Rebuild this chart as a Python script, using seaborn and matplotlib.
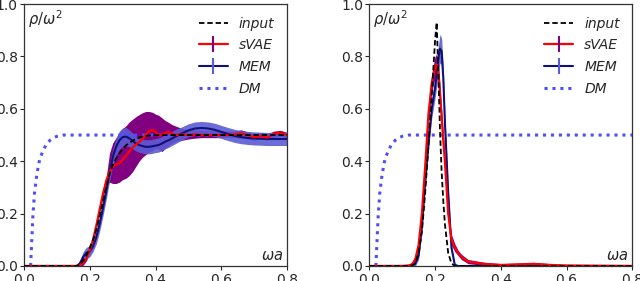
import matplotlib
import matplotlib.pyplot as plt
import numpy as np
import seaborn as sns
from matplotlib.lines import Line2D

matplotlib.use("Agg")

# ---- left panel: broad threshold spectrum ----
x_left = [0, 0.1, 0.15, 0.16, 0.17, 0.18, 0.19, 0.2, 0.21, 0.22, 0.23, 0.24, 0.25,
          0.26, 0.27, 0.28, 0.29, 0.3, 0.31, 0.32, 0.33, 0.34, 0.35, 0.36, 0.37, 0.38,
          0.39, 0.4, 0.41, 0.42, 0.43, 0.44, 0.45, 0.46, 0.48, 0.5, 0.52, 0.54, 0.56,
          0.58, 0.6, 0.62, 0.64, 0.66, 0.68, 0.7, 0.72, 0.74, 0.76, 0.78, 0.8]
input_left = [0, 0, 0, 0, 0.005, 0.02, 0.04, 0.07, 0.1, 0.14, 0.19, 0.245, 0.3,
              0.35, 0.385, 0.41, 0.43, 0.447, 0.46, 0.47, 0.478, 0.485, 0.49, 0.494,
              0.496, 0.498, 0.5, 0.5, 0.5, 0.5, 0.5, 0.5, 0.5, 0.5, 0.5, 0.5, 0.5, 0.5,
              0.5, 0.5, 0.5, 0.5, 0.5, 0.5, 0.5, 0.5, 0.5, 0.5, 0.5, 0.5, 0.5]
svae_left = [0, 0, 0, 0, 0.003, 0.012, 0.03, 0.06, 0.1, 0.155, 0.215, 0.275, 0.325,
             0.36, 0.38, 0.388, 0.393, 0.405, 0.42, 0.437, 0.452, 0.463, 0.473, 0.485,
             0.5, 0.515, 0.52, 0.512, 0.5, 0.5, 0.508, 0.512, 0.505, 0.5, 0.502, 0.5,
             0.502, 0.5, 0.5, 0.5, 0.5, 0.5, 0.502, 0.506, 0.5, 0.492, 0.496, 0.49,
             0.505, 0.508, 0.5]
svae_lo_left = [0, 0, 0, 0, 0, 0.003, 0.02, 0.05, 0.088, 0.14, 0.2, 0.26, 0.31,
                0.32, 0.315, 0.315, 0.32, 0.33, 0.335, 0.345, 0.36, 0.38, 0.4, 0.415,
                0.425, 0.435, 0.44, 0.45, 0.445, 0.437, 0.45, 0.46, 0.468, 0.475, 0.48,
                0.485, 0.488, 0.49, 0.49, 0.49, 0.49, 0.492, 0.49, 0.49, 0.485, 0.48,
                0.485, 0.48, 0.49, 0.495, 0.49]
svae_hi_left = [0, 0, 0, 0, 0.008, 0.022, 0.04, 0.07, 0.112, 0.17, 0.23, 0.29,
                0.34, 0.43, 0.47, 0.49, 0.51, 0.525, 0.535, 0.55, 0.56, 0.57, 0.578,
                0.585, 0.59, 0.59, 0.587, 0.58, 0.575, 0.565, 0.555, 0.548, 0.54, 0.535,
                0.525, 0.52, 0.52, 0.518, 0.518, 0.518, 0.518, 0.515, 0.515, 0.52, 0.512,
                0.505, 0.51, 0.505, 0.515, 0.518, 0.51]
mem_left = [0, 0, 0, 0, 0.01, 0.035, 0.05, 0.055, 0.075, 0.11, 0.16, 0.22, 0.285,
            0.355, 0.415, 0.455, 0.48, 0.492, 0.494, 0.488, 0.478, 0.468, 0.462, 0.458,
            0.455, 0.455, 0.457, 0.46, 0.462, 0.468, 0.475, 0.48, 0.487, 0.494, 0.506,
            0.518, 0.525, 0.527, 0.525, 0.52, 0.512, 0.504, 0.497, 0.492, 0.489, 0.487,
            0.486, 0.485, 0.485, 0.485, 0.485]
mem_err_left = [0, 0, 0, 0, 0.01, 0.02, 0.022, 0.02, 0.02, 0.025, 0.028, 0.03,
                0.032, 0.032, 0.032, 0.032, 0.035, 0.035, 0.035, 0.032, 0.03, 0.028,
                0.028, 0.027, 0.027, 0.027, 0.027, 0.027, 0.027, 0.027, 0.027, 0.027,
                0.027, 0.027, 0.025, 0.025, 0.025, 0.025, 0.025, 0.025, 0.025, 0.025,
                0.025, 0.025, 0.025, 0.025, 0.025, 0.025, 0.025, 0.025, 0.025]

# ---- right panel: narrow peak spectrum ----
x_right = [0, 0.1, 0.12, 0.13, 0.14, 0.15, 0.16, 0.17, 0.18, 0.19, 0.2, 0.205,
           0.21, 0.215, 0.22, 0.225, 0.23, 0.24, 0.25, 0.26, 0.27, 0.28, 0.3, 0.35,
           0.4, 0.45, 0.5, 0.55, 0.6, 0.7, 0.8]
input_right = [0, 0, 0, 0.002, 0.01, 0.05, 0.13, 0.28, 0.46, 0.65, 0.86, 0.93, 0.74,
               0.52, 0.36, 0.25, 0.16, 0.05, 0.01, 0, 0, 0, 0, 0, 0, 0, 0, 0, 0, 0, 0]
svae_right = [0, 0, 0.002, 0.005, 0.025, 0.08, 0.2, 0.38, 0.58, 0.7, 0.76, 0.77,
              0.74, 0.66, 0.57, 0.48, 0.4, 0.2, 0.1, 0.07, 0.05, 0.035, 0.017, 0.008,
              0.004, 0.006, 0.008, 0.004, 0.002, 0.001, 0]
svae_err_right = [0, 0, 0.005, 0.01, 0.015, 0.02, 0.025, 0.03, 0.03, 0.035, 0.04,
                  0.04, 0.04, 0.035, 0.03, 0.03, 0.025, 0.02, 0.02, 0.015, 0.01, 0.01,
                  0.008, 0.006, 0.005, 0.005, 0.006, 0.005, 0.003, 0.002, 0.001]
mem_right = [0, 0, 0, 0.002, 0.01, 0.04, 0.15, 0.32, 0.47, 0.6, 0.68, 0.73, 0.79,
             0.83, 0.82, 0.72, 0.55, 0.28, 0.07, 0.005, 0, 0, 0, 0, 0, 0, 0, 0, 0, 0, 0]
mem_err_right = [0, 0, 0, 0.003, 0.01, 0.015, 0.02, 0.025, 0.03, 0.035, 0.04,
                 0.045, 0.05, 0.055, 0.05, 0.04, 0.03, 0.02, 0.01, 0.003, 0, 0, 0, 0,
                 0, 0, 0, 0, 0, 0, 0]

# ---- default model (same in both panels) ----
x_dm = [0.02, 0.023, 0.027, 0.032, 0.039, 0.048, 0.058, 0.068, 0.079, 0.09, 0.1,
        0.12, 0.8]
dm = [0, 0.08, 0.19, 0.28, 0.35, 0.41, 0.44, 0.465, 0.48, 0.49, 0.495, 0.5, 0.5]

PURPLE = "purple"
SLATE = "#5c5cd4"
NAVY = "#10107a"
DM_COLOR = "#4d4dff"

sns.set_theme(style="ticks")
plt.rcParams["font.family"] = ["DejaVu Sans"]
plt.rcParams["font.size"] = 10
plt.rcParams["axes.edgecolor"] = "#333333"
plt.rcParams["mathtext.fontset"] = "dejavusans"

fig = plt.figure(figsize=(6.4, 2.81), dpi=100)
ax_l = fig.add_axes([0.0375, 0.0534, 0.411, 0.932])
ax_r = fig.add_axes([0.577, 0.0534, 0.411, 0.932])

panels = [
    (ax_l, x_left, input_left, svae_left, np.array(svae_lo_left), np.array(svae_hi_left),
     mem_left, mem_err_left),
    (ax_r, x_right, input_right, svae_right,
     np.array(svae_right) - np.array(svae_err_right),
     np.array(svae_right) + np.array(svae_err_right),
     mem_right, mem_err_right),
]

for ax, xs, inp, sv, sv_lo, sv_hi, mem, mem_err in panels:
    mem_a = np.array(mem)
    err_a = np.array(mem_err)
    ax.fill_between(xs, sv_lo, sv_hi, color=PURPLE, lw=0, zorder=1)
    ax.fill_between(xs, mem_a - err_a, mem_a + err_a, color=SLATE, alpha=0.9,
                    lw=0, zorder=2)
    sns.lineplot(x=x_dm, y=dm, ax=ax, color=DM_COLOR, linestyle=(0, (1, 1.6)),
                 linewidth=2.2, estimator=None, sort=False, zorder=2.5)
    sns.lineplot(x=xs, y=mem, ax=ax, color=NAVY, linewidth=1.5, estimator=None,
                 sort=False, zorder=3)
    sns.lineplot(x=xs, y=sv, ax=ax, color="red", linewidth=1.6, estimator=None,
                 sort=False, zorder=4)
    sns.lineplot(x=xs, y=inp, ax=ax, color="black", linestyle=(0, (3, 1.6)),
                 linewidth=1.3, estimator=None, sort=False, zorder=5)

    ax.set_xlim(0, 0.8)
    ax.set_ylim(0, 1.0)
    ax.set_xticks([0.0, 0.2, 0.4, 0.6, 0.8])
    ax.set_yticks([0.0, 0.2, 0.4, 0.6, 0.8, 1.0])
    ax.tick_params(labelsize=10, length=3, width=0.8)
    ax.tick_params(axis="x", pad=2)
    ax.tick_params(axis="y", pad=1.5)
    for s in ax.spines.values():
        s.set_linewidth(0.9)
    ax.set_xlabel("")
    ax.set_ylabel("")
    ax.text(0.015, 0.985, r"$\rho/\omega^2$", transform=ax.transAxes,
            ha="left", va="top", fontsize=10.5)
    ax.text(0.985, 0.012, r"$\omega a$", transform=ax.transAxes,
            ha="right", va="bottom", fontsize=10.5)

    handles = [
        Line2D([], [], color="black", linestyle=(0, (3, 1.6)), linewidth=1.3),
        (Line2D([], [], color="red", linewidth=1.6),
         Line2D([], [], color=PURPLE, marker="|", markersize=12,
                markeredgewidth=1.5, linestyle="none")),
        (Line2D([], [], color=NAVY, linewidth=1.5),
         Line2D([], [], color=SLATE, marker="|", markersize=12,
                markeredgewidth=1.5, linestyle="none")),
        Line2D([], [], color=DM_COLOR, linestyle=(0, (1, 1.6)), linewidth=2.2),
    ]
    ax.legend(handles, ["input", "sVAE", "MEM", "DM"], loc="upper right",
              frameon=False, prop={"style": "italic", "size": 10},
              handlelength=2.1, labelspacing=0.55, handletextpad=0.8)

fig.savefig("out.png", dpi=100)
